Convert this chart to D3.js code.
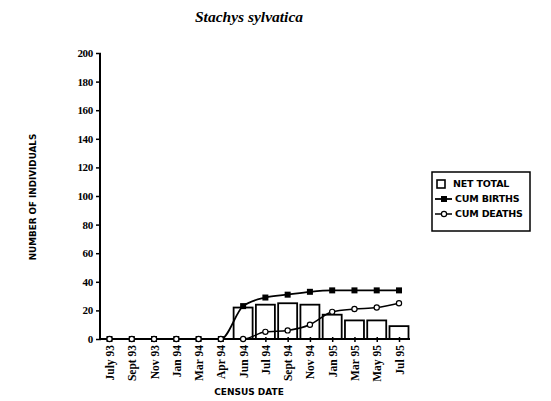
<!DOCTYPE html>
<html>
<head>
<meta charset="utf-8">
<script src="https://cdn.jsdelivr.net/npm/d3@7"></script>
<style>
  body { margin: 0; background: #fff; }
  svg { display: block; }
</style>
</head>
<body>
<svg id="chart" width="551" height="401"></svg>
<script>
// Census dates and population counts for Stachys sylvatica
const dates = ["July 93","Sept 93","Nov 93","Jan 94","Mar 94","Apr 94","Jun 94","Jul 94","Sept 94","Nov 94","Jan 95","Mar 95","May 95","Jul 95"];
const netTotal  = [0,0,0,0,0,0,22,24,25,24,17,13,13,9];
const cumBirths = [0,0,0,0,0,0,23,29,31,33,34,34,34,34];
const cumDeaths = [0,0,0,0,0,0,0,5,6,10,19,21,22,25];
const yTicks = [0,20,40,60,80,100,120,140,160,180,200];
const legendLabels = ["NET TOTAL","CUM BIRTHS","CUM DEATHS"];

const svg = d3.select("#chart");
const serif = "'Liberation Serif', 'DejaVu Serif', serif";
const sans = "'DejaVu Sans', 'Liberation Sans', sans-serif";

const x = d3.scalePoint().domain(dates).range([109.5, 399]);
const y = d3.scaleLinear().domain([0, 200]).range([339, 53]);
const barW = 19;

// Title
svg.append("text")
  .attr("x", 249).attr("y", 22)
  .attr("text-anchor", "middle")
  .attr("font-family", serif)
  .attr("font-style", "italic").attr("font-weight", "bold")
  .attr("font-size", 15.5)
  .text("Stachys sylvatica");

// Bars: net total
svg.append("g").selectAll("rect")
  .data(dates.map((d, i) => ({ d, v: netTotal[i] })).filter(e => e.v > 0))
  .join("rect")
  .attr("x", e => x(e.d) - barW / 2)
  .attr("width", barW)
  .attr("y", e => y(e.v))
  .attr("height", e => y(0) - y(e.v))
  .attr("fill", "#fff").attr("stroke", "#000").attr("stroke-width", 1.8);

// Y axis
const yAxis = svg.append("g")
  .attr("transform", "translate(100,0)")
  .call(d3.axisLeft(y).tickValues(yTicks).tickSize(4).tickPadding(3));
yAxis.select(".domain").attr("stroke-width", 2).attr("d", `M0,${y(200)}V${y(0)}`);
yAxis.selectAll(".tick line").attr("stroke-width", 1.5).attr("x2", -4).attr("x1", 1);
yAxis.selectAll("text")
  .attr("font-family", serif).attr("font-weight", "bold").attr("font-size", 11)
  .attr("letter-spacing", -0.3)
  .attr("fill", "#000");

// X axis
const xAxis = svg.append("g")
  .attr("transform", `translate(0,${y(0)})`)
  .call(d3.axisBottom(x).tickSize(3).tickPadding(3));
xAxis.select(".domain").attr("stroke-width", 2).attr("d", "M100,0H410");
xAxis.selectAll(".tick line").attr("stroke-width", 1.5).attr("y1", -2);
xAxis.selectAll("text")
  .attr("font-family", serif).attr("font-weight", "bold").attr("font-size", 11.5)
  .attr("fill", "#000")
  .attr("text-anchor", "end")
  .attr("transform", "rotate(-90)")
  .attr("x", -6).attr("y", 0).attr("dy", "0.35em");

// Axis titles
svg.append("text")
  .attr("x", 249).attr("y", 395)
  .attr("text-anchor", "middle")
  .attr("font-family", sans).attr("font-weight", "bold").attr("font-size", 9)
  .text("CENSUS DATE");
svg.append("text")
  .attr("transform", "translate(36,197) rotate(-90)")
  .attr("text-anchor", "middle")
  .attr("font-family", sans).attr("font-weight", "bold").attr("font-size", 8.8)
  .text("NUMBER OF INDIVIDUALS");

// Cumulative lines
const line = d3.line()
  .x((v, i) => x(dates[i]))
  .y(v => y(v))
  .curve(d3.curveMonotoneX);

svg.append("path").datum(cumBirths)
  .attr("d", line).attr("fill", "none").attr("stroke", "#000").attr("stroke-width", 1.8);
svg.append("path").datum(cumDeaths)
  .attr("d", line).attr("fill", "none").attr("stroke", "#000").attr("stroke-width", 1.5);

svg.append("g").selectAll("rect")
  .data(cumBirths).join("rect")
  .attr("x", (v, i) => x(dates[i]) - 3).attr("y", v => y(v) - 3)
  .attr("width", 6).attr("height", 6).attr("fill", "#000");

svg.append("g").selectAll("circle")
  .data(cumDeaths).join("circle")
  .attr("cx", (v, i) => x(dates[i])).attr("cy", v => y(v))
  .attr("r", 2.6).attr("fill", "#fff").attr("stroke", "#000").attr("stroke-width", 1.2);

// Legend
const lg = svg.append("g");
lg.append("rect").attr("x", 432).attr("y", 172).attr("width", 98).attr("height", 59)
  .attr("fill", "#fff").attr("stroke", "#000").attr("stroke-width", 1.5);
const rows = [184, 199, 214];
lg.append("rect").attr("x", 437).attr("y", rows[0] - 4).attr("width", 8).attr("height", 8)
  .attr("fill", "#fff").attr("stroke", "#000").attr("stroke-width", 1.6);
lg.append("line").attr("x1", 435).attr("x2", 452).attr("y1", rows[1]).attr("y2", rows[1])
  .attr("stroke", "#000").attr("stroke-width", 1.8);
lg.append("rect").attr("x", 441).attr("y", rows[1] - 3).attr("width", 6).attr("height", 6).attr("fill", "#000");
lg.append("line").attr("x1", 435).attr("x2", 452).attr("y1", rows[2]).attr("y2", rows[2])
  .attr("stroke", "#000").attr("stroke-width", 1.5);
lg.append("circle").attr("cx", 444).attr("cy", rows[2]).attr("r", 2.6)
  .attr("fill", "#fff").attr("stroke", "#000").attr("stroke-width", 1.2);
lg.selectAll("text.lab").data(legendLabels).join("text")
  .attr("class", "lab")
  .attr("x", (d, i) => i === 0 ? 453 : 455)
  .attr("y", (d, i) => rows[i]).attr("dy", "0.35em")
  .attr("font-family", sans).attr("font-weight", "bold").attr("font-size", 9.5)
  .attr("letter-spacing", -0.2)
  .text(d => d);
</script>
</body>
</html>
